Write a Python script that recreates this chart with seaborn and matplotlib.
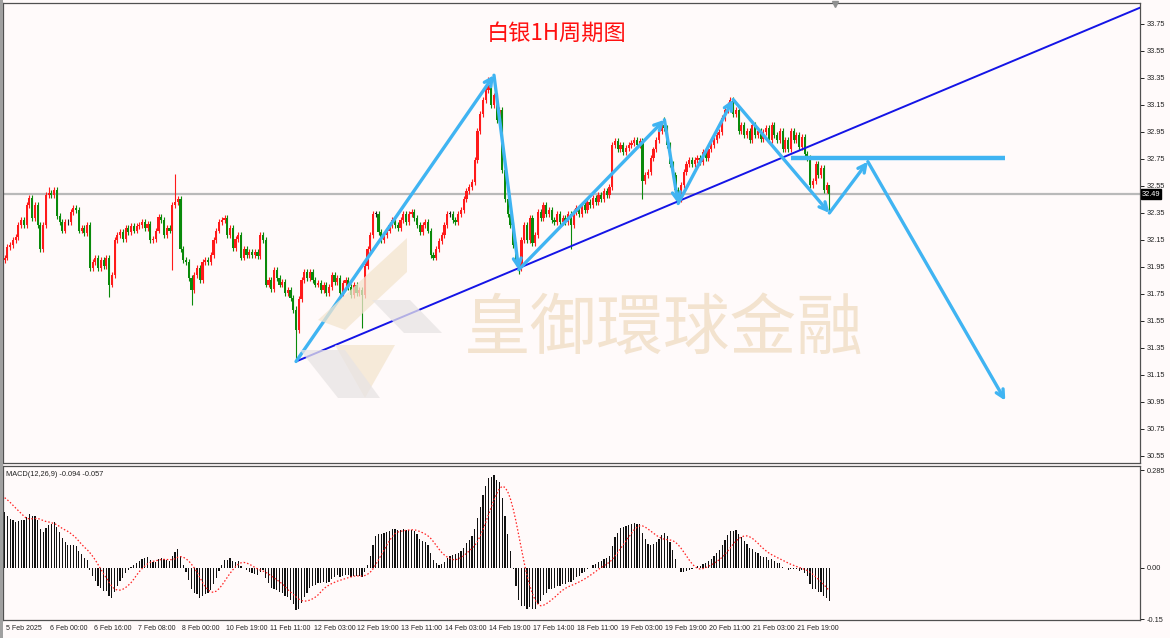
import numpy as np
import pandas as pd
import matplotlib
matplotlib.use("Agg")
import matplotlib.pyplot as plt
import seaborn as sns
from matplotlib.patches import Polygon, Rectangle
from matplotlib.transforms import blended_transform_factory

# ---------------- data ----------------
title_txt = "白银1H周期图"
watermark_txt = "皇御環球金融"
macd_label = "MACD(12,26,9) -0.094 -0.057"

# hourly closes, bar 0 = 5 Feb 2025 08:00
closes = [
    32.02, 32.10, 32.11, 32.15, 32.17, 32.26, 32.30, 32.26, 32.41, 32.46,
    32.31, 32.41, 32.26, 32.08, 32.26, 32.48, 32.50, 32.48, 32.52, 32.33,
    32.28, 32.22, 32.28, 32.28, 32.36, 32.39, 32.37, 32.22, 32.24, 32.20,
    32.26, 31.94, 31.99, 32.02, 31.94, 32.00, 31.96, 32.02, 31.82, 31.89,
    32.15, 32.19, 32.21, 32.16, 32.24, 32.21, 32.25, 32.22, 32.25, 32.26,
    32.28, 32.24, 32.27, 32.15, 32.16, 32.22, 32.32, 32.30, 32.19, 32.24,
    32.22, 32.41, 32.43, 32.45, 32.08, 32.00, 31.99, 31.87, 31.78, 31.89,
    31.94, 31.85, 31.99, 32.00, 31.99, 32.04, 32.15, 32.22, 32.28, 32.30,
    32.31, 32.19, 32.24, 32.09, 32.16, 32.19, 32.02, 32.08, 32.04, 32.06,
    32.04, 32.06, 32.03, 32.19, 32.15, 31.82, 31.85, 31.79, 31.93, 31.87,
    31.82, 31.84, 31.76, 31.78, 31.72, 31.63, 31.48, 31.71, 31.85, 31.91,
    31.87, 31.91, 31.85, 31.82, 31.83, 31.78, 31.82, 31.76, 31.80, 31.89,
    31.84, 31.87, 31.76, 31.83, 31.85, 31.80, 31.74, 31.82, 31.76, 31.78,
    31.74, 31.96, 32.08, 32.19, 32.34, 32.34, 32.21, 32.15, 32.19, 32.22,
    32.26, 32.30, 32.26, 32.24, 32.30, 32.34, 32.28, 32.34, 32.36, 32.31,
    32.26, 32.21, 32.26, 32.28, 32.22, 32.04, 32.02, 32.08, 32.14, 32.19,
    32.26, 32.34, 32.34, 32.30, 32.28, 32.34, 32.37, 32.45, 32.51, 32.54,
    32.58, 32.74, 32.96, 33.08, 33.19, 33.26, 33.30, 33.15, 33.22, 33.04,
    33.11, 32.67, 32.45, 32.34, 32.26, 32.11, 31.99, 31.94, 32.15, 32.26,
    32.15, 32.31, 32.13, 32.19, 32.36, 32.31, 32.41, 32.34, 32.37, 32.30,
    32.28, 32.34, 32.28, 32.31, 32.28, 32.34, 32.26, 32.36, 32.39, 32.34,
    32.41, 32.37, 32.43, 32.41, 32.46, 32.43, 32.48, 32.45, 32.51, 32.48,
    32.54, 32.85, 32.88, 32.82, 32.85, 32.80, 32.83, 32.85, 32.87, 32.89,
    32.85, 32.88, 32.59, 32.63, 32.65, 32.76, 32.82, 32.89, 32.96, 33.00,
    32.98, 32.85, 32.71, 32.63, 32.52, 32.45, 32.56, 32.65, 32.71, 32.74,
    32.71, 32.74, 32.76, 32.73, 32.80, 32.76, 32.82, 32.85, 32.89, 32.93,
    32.95, 33.05, 33.11, 33.15, 33.19, 33.08, 33.11, 32.96, 33.00, 32.93,
    32.96, 32.89, 33.00, 32.93, 32.96, 32.90, 32.95, 32.98, 32.89, 33.00,
    32.93, 32.89, 32.96, 32.82, 32.89, 32.82, 32.96, 32.89, 32.93, 32.84,
    32.91, 32.79, 32.76, 32.56, 32.59, 32.71, 32.63, 32.68, 32.52, 32.56,
    32.49,
]
first_open = 32.00
# visible long wicks
wick_high = {16: 32.54, 62: 32.64, 106: 31.66, 176: 33.36, 240: 33.06, 264: 33.21, 300: 32.56}
wick_low = {38: 31.73, 61: 31.93, 68: 31.67, 106: 31.25, 130: 31.50, 187: 31.90,
            206: 32.08, 232: 32.45, 245: 32.42, 300: 32.35}

time_labels = ["5 Feb 2025", "6 Feb 00:00", "6 Feb 16:00", "7 Feb 08:00", "8 Feb 00:00",
               "10 Feb 19:00", "11 Feb 11:00", "12 Feb 03:00", "12 Feb 19:00", "13 Feb 11:00",
               "14 Feb 03:00", "14 Feb 19:00", "17 Feb 14:00", "18 Feb 11:00", "19 Feb 03:00",
               "19 Feb 19:00", "20 Feb 11:00", "21 Feb 03:00", "21 Feb 19:00"]
bars_per_label = 16
price_ticks = [33.75, 33.55, 33.35, 33.15, 32.95, 32.75, 32.55, 32.35, 32.15,
               31.95, 31.75, 31.55, 31.35, 31.15, 30.95, 30.75, 30.55]
last_price = 32.49
macd_ticks = [0.285, 0.0, -0.15]
macd_tick_txt = ["0.285", "0.00", "-0.15"]

# drawn analysis objects (bar index, price)
trend_x = [106, 420]
trend_y = [31.25, 33.93]
zig_x = [106, 178, 187, 240, 245, 265, 300, 314, 364]
zig_y = [31.25, 33.37, 31.93, 33.04, 32.42, 33.19, 32.35, 32.73, 30.96]
level_x = [286, 364]
level_y = 32.76

# MACD settings + state before first bar
ema_fast_seed, ema_slow_seed = 32.08, 31.90
signal_seed = 0.21

# ---------------- prep ----------------
n = len(closes)
bars = np.arange(n)
opens = [first_open] + closes[:-1]
df = pd.DataFrame({"bar": bars, "open": opens, "close": closes})
pad = 0.022
df["high"] = df[["open", "close"]].max(axis=1) + pad
df["low"] = df[["open", "close"]].min(axis=1) - pad
for k, v in wick_high.items():
    df.loc[k, "high"] = v
for k, v in wick_low.items():
    df.loc[k, "low"] = v


def ema(vals, span, seed):
    a = 2.0 / (span + 1)
    e = seed
    out = []
    for v in vals:
        e = e + a * (v - e)
        out.append(e)
    return np.array(out)


macd = ema(closes, 12, ema_fast_seed) - ema(closes, 26, ema_slow_seed)
signal = pd.Series([signal_seed] * 8 + list(macd)).rolling(9).mean().to_numpy()[8:]

# ---------------- figure ----------------
sns.set_style("white")
plt.rcParams["font.family"] = ["Liberation Sans", "Noto Sans CJK SC", "DejaVu Sans"]

W, H = 1170, 638
bg = "#fffafa"
fig = plt.figure(figsize=(W / 100, H / 100), dpi=100, facecolor=bg)


def box(x0, y0, x1, y1):
    return [x0 / W, 1 - y1 / H, (x1 - x0) / W, (y1 - y0) / H]


ax = fig.add_axes(box(3, 3, 1140, 463))
ax2 = fig.add_axes(box(3, 466, 1140, 620), sharex=ax)
for a in (ax, ax2):
    a.set_facecolor(bg)
    for s in a.spines.values():
        s.set_color("#505050")
        s.set_linewidth(0.9)

# watermark + logo (behind everything)
ax.text(0.581, 0.287, watermark_txt, transform=ax.transAxes, fontsize=48,
        family=["Noto Sans CJK SC"], color="#f3e3cf", ha="center", va="center", zorder=0)
logo_tan = [[(318, 320), (407, 238), (407, 272), (345, 330)],
            [(335, 345), (395, 345), (365, 398)]]
logo_grey = [[(372, 300), (410, 300), (442, 333), (404, 333)],
             [(300, 350), (345, 350), (380, 398), (338, 398)]]
for pts in logo_tan:
    fig.patches.append(Polygon([(x / W, 1 - y / H) for x, y in pts], closed=True,
                               transform=fig.transFigure, fc="#f4e5cf", ec="none", alpha=0.75, zorder=0))
for pts in logo_grey:
    fig.patches.append(Polygon([(x / W, 1 - y / H) for x, y in pts], closed=True,
                               transform=fig.transFigure, fc="#e8e4e4", ec="none", alpha=0.75, zorder=0))

# last price line
ax.axhline(last_price, color="#b9b9b9", lw=1.6, zorder=1)

# candles: red up, green down
up, down = "#ff1a1a", "#0a8a0a"
colors = np.where(df.close > df.open, up, np.where(df.close < df.open, down, "#202020"))
ax.vlines(df.bar, df.low, df.high, colors=colors, lw=0.8, zorder=2)
body_lo = df[["open", "close"]].min(axis=1)
body_h = (df.close - df.open).abs().clip(lower=0.006)
ax.bar(df.bar, body_h, bottom=body_lo, width=0.8, color=colors, lw=0, zorder=3)

# trend line
sns.lineplot(x=trend_x, y=trend_y, ax=ax, color="#1414e6", lw=1.4, zorder=4)

# zigzag arrows
arrow_c = "#40b4f2"
for i in range(len(zig_x) - 1):
    ax.annotate("", xy=(zig_x[i + 1], zig_y[i + 1]), xytext=(zig_x[i], zig_y[i]),
                arrowprops=dict(arrowstyle="->,head_length=0.55,head_width=0.28",
                                color=arrow_c, lw=2.4, shrinkA=0, shrinkB=0),
                zorder=5)
ax.plot(level_x, [level_y, level_y], color=arrow_c, lw=3.2, solid_capstyle="butt", zorder=5)

ax.set_xlim(-0.6, 413)
ax.set_ylim(30.498, 33.905)
ax.yaxis.tick_right()
ax.set_yticks(price_ticks)
ax.set_yticklabels([f"{p:.2f}" for p in price_ticks])
ax.tick_params(axis="y", length=3, width=0.7, pad=2, labelsize=5.3, colors="#222222")
ax.tick_params(axis="x", length=0, labelbottom=False)

# price tag
ax.text(1.0015, last_price, f"{last_price:.2f}", transform=blended_transform_factory(ax.transAxes, ax.transData),
        fontsize=5.3, color="white", va="center", ha="left",
        bbox=dict(boxstyle="square,pad=0.15", fc="black", ec="black"), zorder=6, clip_on=False)
ax.plot([302], [33.895], marker="v", color="#909090", ms=4, clip_on=False, zorder=6)

fig.text(557 / W, 1 - 33 / H, title_txt, fontsize=16,
         color="#ff1010", family=["Noto Sans CJK SC"], ha="center", va="center")

# ---------------- MACD ----------------
ax2.bar(bars, macd, width=0.45, color="#111111", lw=0, zorder=2)
sns.lineplot(x=bars, y=signal, ax=ax2, color="#ff2020", lw=0.9, linestyle=(0, (1.2, 1.6)), zorder=3)
ax2.set_ylim(-0.152, 0.297)
ax2.yaxis.tick_right()
ax2.set_yticks(macd_ticks)
ax2.set_yticklabels(macd_tick_txt)
ax2.tick_params(axis="y", length=3, width=0.7, pad=2, labelsize=5.3, colors="#222222")
ax2.text(0.003, 0.965, macd_label, transform=ax2.transAxes, fontsize=5.3, color="#222222",
         ha="left", va="top")

ticks = [k * bars_per_label for k in range(len(time_labels))]
ax2.set_xticks(ticks)
ax2.set_xticklabels([])
ax2.tick_params(axis="x", length=4, width=0.7, direction="out", colors="#222222")
trans = blended_transform_factory(ax2.transData, ax2.transAxes)
for t, lab in zip(ticks, time_labels):
    ax2.text(t + 0.35, -0.055, lab, transform=trans, fontsize=5, color="#222222",
             ha="left", va="center", clip_on=False)

# window edge on the left
fig.patches.append(Rectangle((0, 0), 2.5 / W, 1, transform=fig.transFigure,
                             fc="#a0a0a0", ec="none"))

fig.savefig("out.png", dpi=100, facecolor=bg)
